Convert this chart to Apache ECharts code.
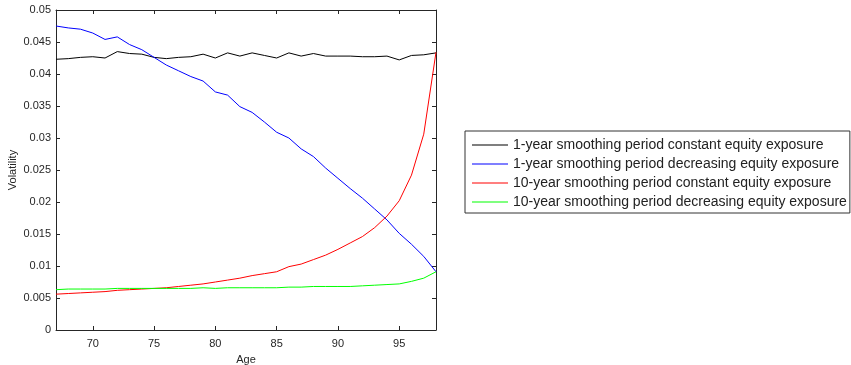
<!DOCTYPE html>
<html>
<head>
<meta charset="utf-8">
<script src="https://cdn.jsdelivr.net/npm/echarts@6/dist/echarts.min.js"></script>
<style>
  html, body { margin: 0; padding: 0; background: #fff; }
  #chart { width: 851px; height: 365px; }
</style>
</head>
<body>
<div id="chart"></div>
<script>
// data ==========================================
const ages = [67, 68, 69, 70, 71, 72, 73, 74, 75, 76, 77, 78, 79, 80, 81, 82,
              83, 84, 85, 86, 87, 88, 89, 90, 91, 92, 93, 94, 95, 96, 97, 98];

const oneYearConstant = [0.0423, 0.0424, 0.0426, 0.0427, 0.0425, 0.0435, 0.0432, 0.0431,
                         0.0426, 0.0424, 0.0426, 0.0427, 0.0431, 0.0425, 0.0433, 0.0428,
                         0.0433, 0.0429, 0.0425, 0.0433, 0.0428, 0.0432, 0.0428, 0.0428,
                         0.0428, 0.0427, 0.0427, 0.0428, 0.0422, 0.0429, 0.0430, 0.0433];

const oneYearDecreasing = [0.0475, 0.0472, 0.0470, 0.0464, 0.0454, 0.0458, 0.0446, 0.0438,
                           0.0426, 0.0414, 0.0405, 0.0396, 0.0389, 0.0372, 0.0367, 0.0349,
                           0.0340, 0.0325, 0.0309, 0.0300, 0.0283, 0.0271, 0.0253, 0.0237,
                           0.0221, 0.0206, 0.0189, 0.0172, 0.0151, 0.0134, 0.0115, 0.0091];

const tenYearConstant = [0.0056, 0.0057, 0.0058, 0.0059, 0.0060, 0.0062, 0.0063, 0.0064,
                         0.0065, 0.0066, 0.0068, 0.0070, 0.0072, 0.0075, 0.0078, 0.0081,
                         0.0085, 0.0088, 0.0091, 0.0099, 0.0103, 0.0110, 0.0117, 0.0126,
                         0.0136, 0.0146, 0.0160, 0.0178, 0.0202, 0.0242, 0.0306, 0.0434];

const tenYearDecreasing = [0.0063, 0.0064, 0.0064, 0.0064, 0.0064, 0.0065, 0.0065, 0.0065,
                           0.0065, 0.0065, 0.0065, 0.0065, 0.0066, 0.0065, 0.0066, 0.0066,
                           0.0066, 0.0066, 0.0066, 0.0067, 0.0067, 0.0068, 0.0068, 0.0068,
                           0.0068, 0.0069, 0.0070, 0.0071, 0.0072, 0.0076, 0.0081, 0.0091];

const seriesNames = [
    '1-year smoothing period constant equity exposure',
    '1-year smoothing period decreasing equity exposure',
    '10-year smoothing period constant equity exposure',
    '10-year smoothing period decreasing equity exposure'
];
const seriesColors = ['#000000', '#0000ff', '#ff0000', '#00ff00'];
const xTicks = [70, 75, 80, 85, 90, 95];

// chart ==========================================
const fontFamily = '"Liberation Sans", Arial, Helvetica, sans-serif';
const axisColor = '#262626';
// thin line icon for the legend (no marker)
const lineIcon = 'path://M0,0H36V1H0Z';

function pairs(values) {
    return ages.map((a, i) => [a, values[i]]);
}

const chart = echarts.init(document.getElementById('chart'), null, { renderer: 'canvas' });

const tickStyle = { show: true, inside: true, length: 4, lineStyle: { color: axisColor, width: 1 } };

const option = {
    animation: false,
    textStyle: { fontFamily: fontFamily },
    grid: { left: 56, top: 10, width: 380, height: 320, containLabel: false, outerBoundsMode: 'none' },
    legend: {
        orient: 'vertical',
        left: 465,
        top: 131,
        padding: [7, 3, 4, 7],
        itemWidth: 36,
        itemHeight: 14,
        itemGap: 5,
        borderColor: '#333',
        borderWidth: 1,
        textStyle: { fontSize: 14, color: '#222', fontFamily: fontFamily },
        data: seriesNames.map(n => ({ name: n, icon: lineIcon }))
    },
    xAxis: [{
        type: 'value',
        min: 67,
        max: 98,
        name: 'Age',
        nameLocation: 'middle',
        nameGap: 24,
        nameTextStyle: { fontSize: 11, color: axisColor },
        axisLine: { show: true, onZero: false, lineStyle: { color: axisColor } },
        axisTick: Object.assign({ customValues: xTicks }, tickStyle),
        axisLabel: { customValues: xTicks, fontSize: 11, color: axisColor, margin: 8 },
        splitLine: { show: false }
    }, {
        type: 'value',
        position: 'top',
        min: 67,
        max: 98,
        axisLine: { show: true, onZero: false, lineStyle: { color: axisColor } },
        axisTick: Object.assign({ customValues: xTicks }, tickStyle),
        axisLabel: { show: false },
        splitLine: { show: false }
    }],
    yAxis: [{
        type: 'value',
        min: 0,
        max: 0.05,
        interval: 0.005,
        name: 'Volatility',
        nameLocation: 'middle',
        nameGap: 38,
        nameTextStyle: { fontSize: 11, color: axisColor },
        axisLine: { show: true, onZero: false, lineStyle: { color: axisColor } },
        axisTick: tickStyle,
        axisLabel: { fontSize: 11, color: axisColor, margin: 5 },
        splitLine: { show: false }
    }, {
        type: 'value',
        position: 'right',
        min: 0,
        max: 0.05,
        interval: 0.005,
        axisLine: { show: true, onZero: false, lineStyle: { color: axisColor } },
        axisTick: tickStyle,
        axisLabel: { show: false },
        splitLine: { show: false }
    }],
    series: [oneYearConstant, oneYearDecreasing, tenYearConstant, tenYearDecreasing].map((vals, i) => ({
        name: seriesNames[i],
        type: 'line',
        xAxisIndex: 0,
        yAxisIndex: 0,
        data: pairs(vals),
        symbol: 'none',
        lineStyle: { width: 1, color: seriesColors[i] },
        itemStyle: { color: seriesColors[i] }
    }))
};

chart.setOption(option);
</script>
</body>
</html>
